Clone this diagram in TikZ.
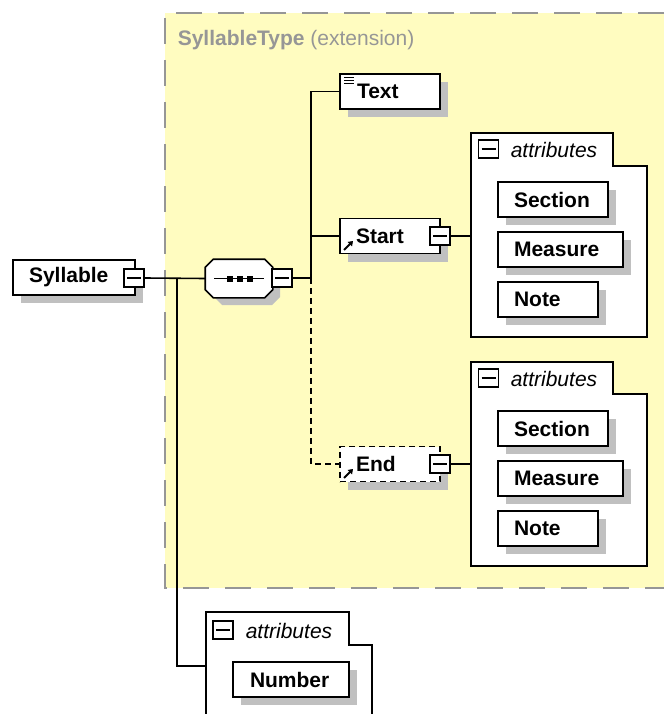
\documentclass[tikz,border=0pt]{standalone}
\usepackage{fontspec}
\setmainfont{Liberation Sans}
\usetikzlibrary{shadows,arrows.meta}
\definecolor{typebg}{RGB}{255,252,192}
\definecolor{typeline}{RGB}{150,150,150}
\definecolor{shadowgray}{RGB}{192,192,192}
\begin{document}
\begin{tikzpicture}[x=1pt,y=-1pt,
  line width=1.6pt,
  shad/.style={general shadow={fill=shadowgray, shadow xshift=8pt, shadow yshift=-8pt}},
  elem/.style={draw, fill=white, shad, minimum height=35pt, inner ysep=0pt, inner xsep=16pt,
    align=left, font=\fontsize{21}{24}\selectfont\bfseries},
  minusbox/.style={draw, fill=white, minimum width=20pt, minimum height=18pt, inner sep=0pt,
    path picture={\draw[line width=1.4pt] ([xshift=3pt]path picture bounding box.west) -- ([xshift=-3pt]path picture bounding box.east);}},
  attrlabel/.style={anchor=west, inner sep=0pt, font=\fontsize{21}{24}\selectfont\itshape},
  container/.style={draw, fill=white, line width=1.6pt},
  conn/.style={line width=1.6pt},
  optdash/.style={dash pattern=on 6pt off 4pt},
  icon/.style={line width=1.8pt, -{Triangle[length=4.5pt,width=6pt]}},
]
\useasboundingbox (0,0) rectangle (664,714);

% type (extension) region
\fill[typebg] (165,13) rectangle (664,588);
\draw[typeline, line width=2pt, dash pattern=on 26pt off 16pt] (664,13) -- (165,13) -- (165,588) -- (664,588);
\node[anchor=west, inner sep=0pt, text=typeline, font=\fontsize{21}{24}\selectfont] (title) at (177,40)
  {\textbf{SyllableType} (extension)};

% attribute containers
\draw[container] (471,133) -- (613,133) -- (613,166) -- (647,166) -- (647,337) -- (471,337) -- cycle;
\coordinate (att1) at (471,236);
\draw[container] (471,362) -- (613,362) -- (613,394) -- (647,394) -- (647,566) -- (471,566) -- cycle;
\coordinate (att2) at (471,464);
\fill[white] (206,612) rectangle (372,714);
\draw[container] (206,714) -- (206,612) -- (349,612) -- (349,645) -- (372,645) -- (372,714);
\coordinate (att3) at (206,666);

\node[minusbox] (am1) at (488.5,149) {};
\node[attrlabel] (al1) at (510,150) {attributes};
\node[minusbox] (am2) at (488.5,378) {};
\node[attrlabel] (al2) at (510,379) {attributes};
\node[minusbox] (am3) at (223,630) {};
\node[attrlabel] (al3) at (245,631) {attributes};

% attribute elements
\node[elem, text width=78pt] (sec1) at (553,199.5) {Section};
\node[elem, text width=93pt] (mea1) at (560.5,249.5) {Measure};
\node[elem, text width=68pt] (not1) at (548,299.5) {Note};
\node[elem, text width=78pt] (sec2) at (553,428.5) {Section};
\node[elem, text width=93pt] (mea2) at (560.5,478.5) {Measure};
\node[elem, text width=68pt] (not2) at (548,528.5) {Note};
\node[elem, text width=82pt, inner xsep=17pt] (num) at (291,679.5) {Number};

% root element
\node[elem, text width=90pt] (syl) at (74,277.5) {Syllable};
\node[minusbox] (sylm) at (134,278) {};

% sequence compositor (octagon)
\fill[shadowgray] (222,268) -- (272,268) -- (280,276) -- (280,297) -- (272,305) -- (222,305) -- (214,297) -- (214,276) -- cycle;
\node[minimum width=66pt, minimum height=37pt, inner sep=0pt] (seq) at (239,278.5) {};
\draw[fill=white] ([xshift=8pt]seq.north west) -- ([xshift=-8pt]seq.north east) -- ([yshift=-8pt]seq.north east)
  -- ([yshift=8pt]seq.south east) -- ([xshift=-8pt]seq.south east) -- ([xshift=8pt]seq.south west)
  -- ([yshift=8pt]seq.south west) -- ([yshift=-8pt]seq.north west) -- cycle;
\draw[line width=1.4pt] ([xshift=9pt]seq.west) -- ([xshift=-9pt]seq.east);
\fill (227,275.5) rectangle (233,281.5);
\fill (237,275.5) rectangle (243,281.5);
\fill (247,275.5) rectangle (253,281.5);
\node[minusbox] (seqm) at (282,278) {};

% children
\node[elem, text width=68pt, inner xsep=16pt] (txt) at (390,91.5) {\hspace{1pt}Text};
\draw[line width=1.2pt] (344,77.5) -- (354,77.5) (344,80.5) -- (354,80.5) (344,83.5) -- (354,83.5);
\node[elem, text width=68pt] (start) at (390,236) {Start};
\draw[icon] (344,250) -- (353,241);
\node[minusbox] (startm) at (440,236) {};
\node[elem, optdash, text width=68pt] (end) at (390,464) {End};
\draw[icon] (344,478) -- (353,469);
\node[minusbox] (endm) at (440,464) {};

% connectors
\coordinate (b1) at (177,278);
\coordinate (b2) at (311,278);
\draw[conn] (sylm.east) -- (seq.west);
\draw[conn] (b1) |- (att3);
\draw[conn] (seqm.east) -- (b2);
\draw[conn] (b2) |- (txt.west);
\draw[conn] (b2) -- (start.west -| b2) -- (start.west);
\draw[conn, optdash] (b2) |- (end.west);
\draw[conn] (startm.east) -- (att1);
\draw[conn] (endm.east) -- (att2);
\end{tikzpicture}
\end{document}
